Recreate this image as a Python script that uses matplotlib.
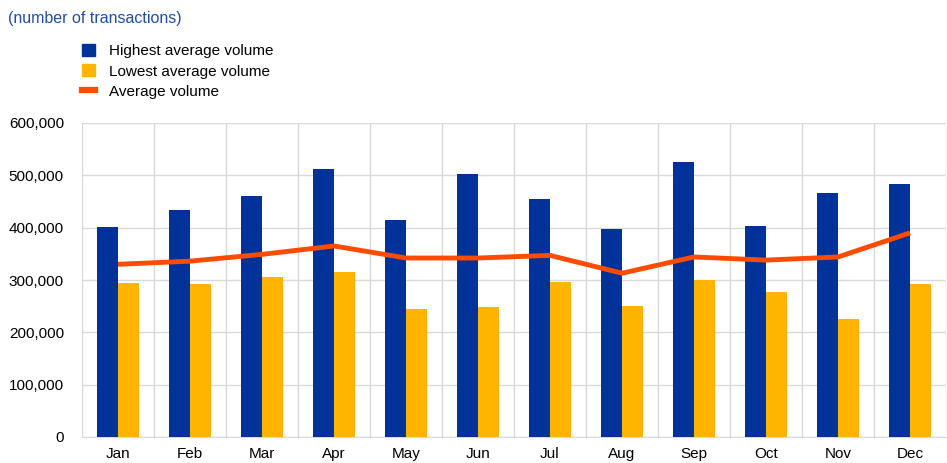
import numpy as np
import matplotlib
matplotlib.use('Agg')
import matplotlib.pyplot as plt
from matplotlib.ticker import FuncFormatter
from matplotlib.patches import Patch
from matplotlib.lines import Line2D

plt.rcParams['font.family'] = ['Liberation Sans', 'DejaVu Sans']

# Data
months = ['Jan', 'Feb', 'Mar', 'Apr', 'May', 'Jun', 'Jul', 'Aug', 'Sep', 'Oct', 'Nov', 'Dec']
highest = [401000, 433000, 461000, 513000, 414000, 503000, 454000, 398000, 525000, 403000, 466000, 484000]
lowest = [294000, 292000, 306000, 316000, 244000, 248000, 296000, 250000, 300000, 277000, 225000, 293000]
average = [330000, 336000, 349000, 365000, 342000, 342000, 347000, 313000, 344000, 338000, 344000, 390000]

blue = '#003299'
yellow = '#ffb400'
orange = '#ff4b00'
grid = '#d9d9d9'

fig = plt.figure(figsize=(9.47, 4.63), dpi=100)
ax = fig.add_axes([82 / 947, 26 / 463, 864 / 947, 314 / 463])

x = np.arange(len(months))
w = 0.285
ax.bar(x - w / 2, highest, width=w, color=blue, zorder=3)
ax.bar(x + w / 2, lowest, width=w, color=yellow, zorder=3)
ax.plot(x, average, color=orange, linewidth=3.5, zorder=4, solid_capstyle='butt')

ax.set_xlim(-0.5, len(months) - 0.5)
ax.set_ylim(0, 600000)
ax.set_yticks(np.arange(0, 600001, 100000))
ax.yaxis.set_major_formatter(FuncFormatter(lambda v, p: f'{int(v):,}'))
ax.set_xticks(x)
ax.set_xticklabels(months)
ax.set_xticks(np.arange(-0.5, len(months), 1), minor=True)

ax.grid(axis='y', which='major', color=grid, linewidth=1, zorder=0)
ax.grid(axis='x', which='minor', color=grid, linewidth=1, zorder=0)
ax.grid(axis='x', which='major', visible=False)

for s in ['top', 'right', 'left']:
    ax.spines[s].set_visible(False)
ax.spines['bottom'].set_color(grid)
ax.tick_params(axis='both', which='both', length=0, labelsize=11, colors='#000000')
ax.tick_params(axis='y', pad=13)
ax.tick_params(axis='x', pad=7)

fig.text(8 / 947, 1 - 18 / 463, '(number of transactions)', color='#1f4ea6',
         fontsize=11.5, va='center', ha='left')

handles = [Patch(color=blue), Patch(color=yellow), Line2D([0], [0], color=orange, linewidth=4.5)]
labels = ['Highest average volume', 'Lowest average volume', 'Average volume']
fig.legend(handles, labels, loc='upper left', bbox_to_anchor=(76 / 947, 1 - 38 / 463),
           frameon=False, fontsize=11, handlelength=0.85, handleheight=0.85,
           handletextpad=0.9, labelspacing=0.38, borderaxespad=0)

fig.savefig('out.png', dpi=100)
